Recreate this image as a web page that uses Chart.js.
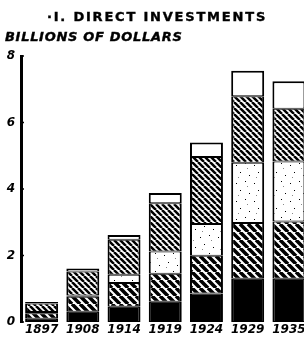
<!DOCTYPE html>
<html>
<head>
<meta charset="utf-8">
<script src="https://cdn.jsdelivr.net/npm/chart.js@4/dist/chart.umd.min.js"></script>
<style>
  html, body { margin: 0; padding: 0; background: #fff; overflow: hidden; width: 304px; height: 340px; }
  #wrap { position: relative; width: 304px; height: 340px; }
  #c { position: absolute; left: 0; top: 0; }
  .t { position: absolute; white-space: nowrap; color: #000; font-family: "DejaVu Sans", sans-serif; font-weight: bold; -webkit-text-stroke: 0.4px #000; }
  #title { left: 0; width: 314px; text-align: center; top: 10px; font-size: 13px; line-height: 13px; letter-spacing: 1.8px; }
  #sub { left: 5px; top: 30px; font-size: 13px; line-height: 13px; font-style: italic; letter-spacing: 0.7px; }
</style>
</head>
<body>
<div id="wrap">
  <canvas id="c" width="312" height="340"></canvas>
  <div class="t" id="title">·I. DIRECT INVESTMENTS</div>
  <div class="t" id="sub">BILLIONS OF DOLLARS</div>
</div>
<script>
// ---- data (billions of dollars) ----
const years = ['1897', '1908', '1914', '1919', '1924', '1929', '1935'];
const solidSegment   = [0.10, 0.31, 0.46, 0.61, 0.86, 1.30, 1.30];
const wideHatch      = [0.16, 0.45, 0.71, 0.84, 1.13, 1.68, 1.72];
const stippled       = [0.04, 0.04, 0.25, 0.67, 0.96, 1.81, 1.81];
const fineHatch      = [0.26, 0.72, 1.05, 1.45, 2.01, 2.00, 1.58];
const openSegment    = [0.04, 0.09, 0.15, 0.31, 0.44, 0.77, 0.83];
const yTicks = [0, 2, 4, 6, 8];

const canvas = document.getElementById('c');
const ctx = canvas.getContext('2d');

function stripes(period, lw) {
  const c = document.createElement('canvas');
  c.width = c.height = period;
  const x = c.getContext('2d');
  x.fillStyle = '#fff'; x.fillRect(0, 0, period, period);
  x.strokeStyle = '#000'; x.lineWidth = lw;
  x.beginPath();
  for (const o of [-period, 0, period]) { x.moveTo(o, 0); x.lineTo(o + period, period); }
  x.stroke();
  return ctx.createPattern(c, 'repeat');
}
function stipple() {
  const c = document.createElement('canvas');
  c.width = c.height = 18;
  const x = c.getContext('2d');
  x.fillStyle = '#fff'; x.fillRect(0, 0, 18, 18);
  x.fillStyle = '#000';
  [[2,3],[11,1],[6,10],[15,13]].forEach(p => x.fillRect(p[0], p[1], 1, 1));
  x.fillStyle = '#888';
  [[13,6],[4,15]].forEach(p => x.fillRect(p[0], p[1], 1, 1));
  return ctx.createPattern(c, 'repeat');
}

const base = { borderColor: '#000', borderSkipped: false, barPercentage: 0.8, categoryPercentage: 1.0 };
const bw = { top: 1, bottom: 1, left: 2, right: 2 };

const tickMarks = {
  id: 'tickMarks',
  afterDraw(chart) {
    const y = chart.scales.y, a = chart.chartArea, g = chart.ctx;
    g.save(); g.strokeStyle = '#000'; g.lineWidth = 1.5;
    yTicks.forEach(v => {
      const p = y.getPixelForValue(v);
      g.beginPath(); g.moveTo(a.left, p); g.lineTo(a.left + 3, p); g.stroke();
    });
    g.restore();
  }
};

new Chart(ctx, {
  type: 'bar',
  data: {
    labels: years,
    datasets: [
      Object.assign({ label: 'Solid', data: solidSegment, backgroundColor: '#000', borderWidth: bw }, base),
      Object.assign({ label: 'Wide hatch', data: wideHatch, backgroundColor: stripes(8, 3.6), borderWidth: bw }, base),
      Object.assign({ label: 'Stippled', data: stippled, backgroundColor: stipple(), borderWidth: bw }, base),
      Object.assign({ label: 'Fine hatch', data: fineHatch, backgroundColor: stripes(6, 2.5), borderWidth: bw }, base),
      Object.assign({ label: 'Open', data: openSegment, backgroundColor: '#fff', borderWidth: { top: 2, bottom: 1, left: 2, right: 2 } }, base)
    ]
  },
  options: {
    responsive: false,
    animation: false,
    layout: { padding: { top: 56, left: 0, right: 2.5, bottom: 0 } },
    plugins: { legend: { display: false }, tooltip: { enabled: false }, title: { display: false } },
    scales: {
      x: {
        stacked: true,
        offset: true,
        grid: { display: false, drawTicks: false },
        border: { display: false },
        ticks: { color: '#000', padding: 1, maxRotation: 0, autoSkip: false,
                 font: { family: 'DejaVu Sans', size: 12, weight: 'bold', style: 'italic' } },
        afterFit(s) { s.height = 18; }
      },
      y: {
        stacked: true,
        min: 0, max: 8,
        grid: { display: false, drawTicks: false },
        border: { display: true, color: '#000', width: 3 },
        ticks: { stepSize: 2, color: '#000', padding: 6,
                 font: { family: 'DejaVu Sans', size: 12, weight: 'bold', style: 'italic' } },
        afterFit(s) { s.width = 21; }
      }
    }
  },
  plugins: [tickMarks]
});
</script>
</body>
</html>
